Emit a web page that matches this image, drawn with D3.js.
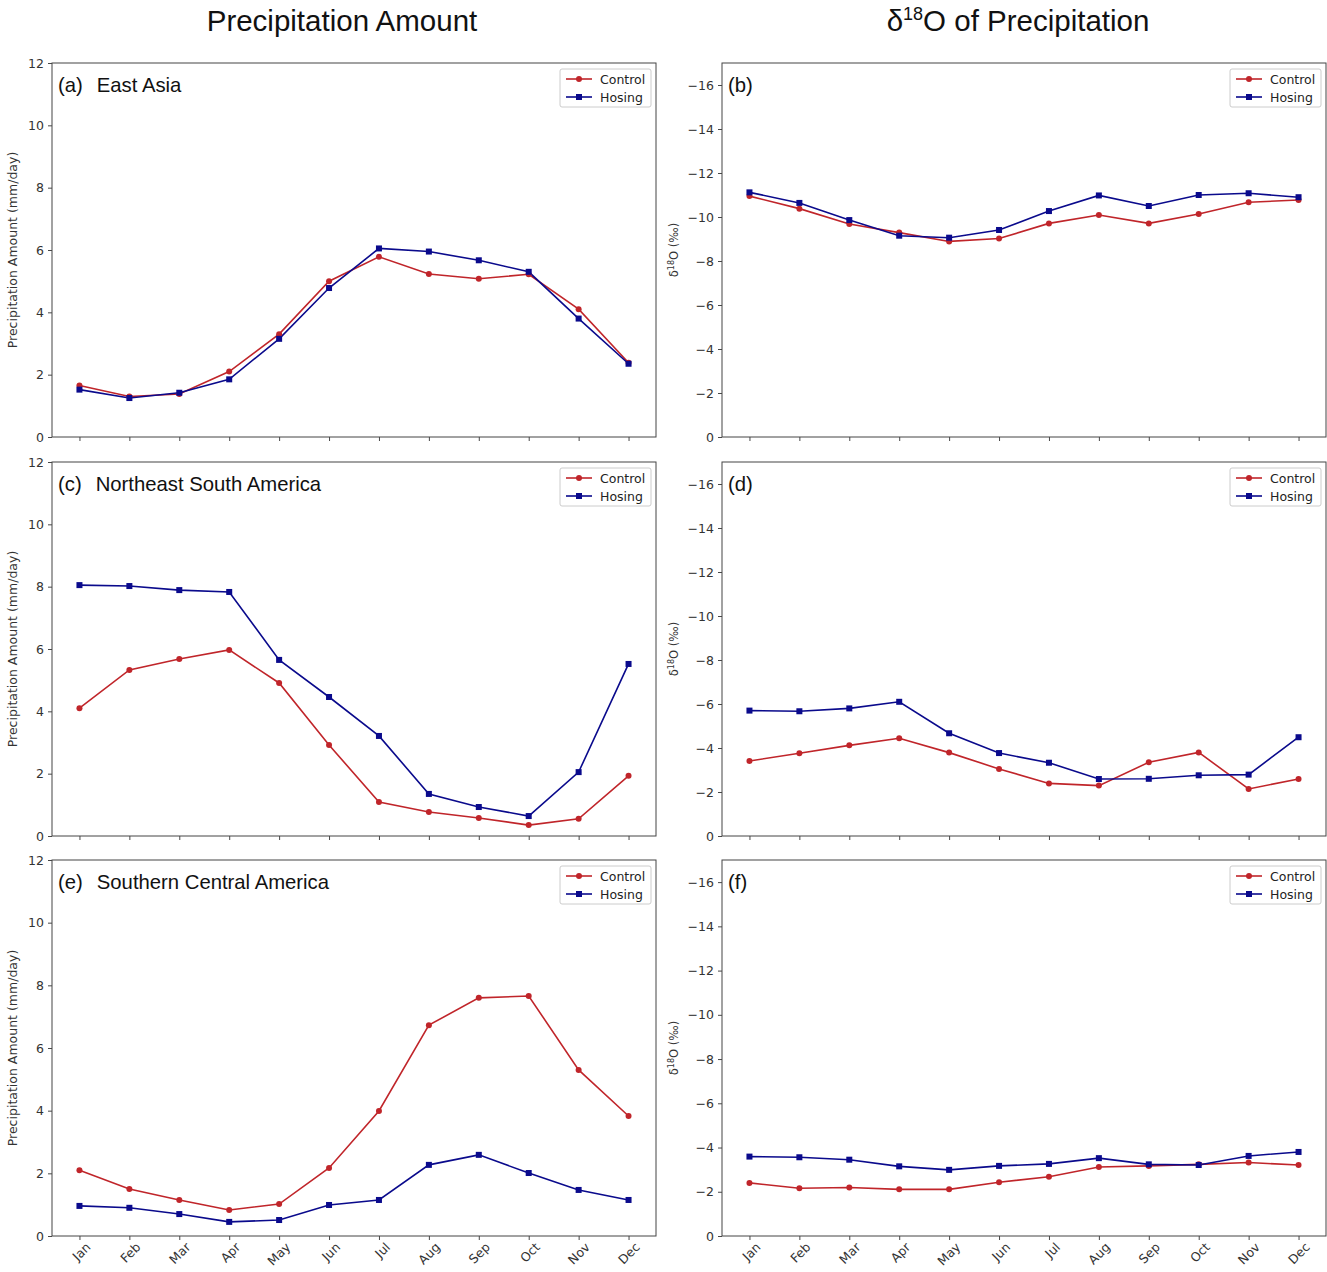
<!DOCTYPE html>
<html><head><meta charset="utf-8">
<script src="https://cdn.jsdelivr.net/npm/d3@7"></script>
<style>body{margin:0;background:#fff;} svg{display:block;}</style>
</head><body>
<svg id="chart" width="1327" height="1272"></svg>
<script>
const months = ["Jan","Feb","Mar","Apr","May","Jun","Jul","Aug","Sep","Oct","Nov","Dec"];
const precipTicks = [0,2,4,6,8,10,12];
const d18Ticks = [0,-2,-4,-6,-8,-10,-12,-14,-16];
const regions = ["East Asia","Northeast South America","Southern Central America"];

const eaPrecipControl = [1.65,1.30,1.38,2.10,3.30,5.00,5.78,5.23,5.08,5.22,4.10,2.38];
const eaPrecipHosing  = [1.52,1.25,1.42,1.85,3.15,4.78,6.05,5.95,5.67,5.30,3.80,2.35];
const eaD18Control = [-10.95,-10.38,-9.68,-9.29,-8.89,-9.02,-9.71,-10.09,-9.71,-10.14,-10.67,-10.77];
const eaD18Hosing  = [-11.12,-10.64,-9.86,-9.15,-9.06,-9.41,-10.27,-10.98,-10.50,-11.00,-11.08,-10.90];

const nsaPrecipControl = [4.10,5.33,5.68,5.97,4.91,2.92,1.09,0.77,0.58,0.35,0.55,1.93];
const nsaPrecipHosing  = [8.05,8.02,7.89,7.83,5.65,4.46,3.21,1.35,0.93,0.64,2.05,5.52];
const nsaD18Control = [-3.41,-3.76,-4.12,-4.44,-3.79,-3.05,-2.39,-2.29,-3.35,-3.80,-2.14,-2.59];
const nsaD18Hosing  = [-5.70,-5.67,-5.80,-6.10,-4.67,-3.77,-3.33,-2.59,-2.60,-2.76,-2.79,-4.49];

const scaPrecipControl = [2.10,1.50,1.15,0.83,1.02,2.17,3.99,6.73,7.60,7.66,5.30,3.83];
const scaPrecipHosing  = [0.96,0.90,0.70,0.45,0.51,0.99,1.15,2.27,2.59,2.01,1.47,1.15];
const scaD18Control = [-2.40,-2.16,-2.19,-2.11,-2.11,-2.43,-2.68,-3.12,-3.17,-3.24,-3.32,-3.21];
const scaD18Hosing  = [-3.59,-3.56,-3.45,-3.15,-2.99,-3.17,-3.26,-3.52,-3.24,-3.21,-3.62,-3.80];

const RED = "#c0252a", BLUE = "#0a0a8c";
const TICKFONT = "'DejaVu Sans', sans-serif";
const TITLEFONT = "'Liberation Sans', Arial, sans-serif";
const svg = d3.select("#chart");

svg.append("text").attr("x",342).attr("y",31).attr("text-anchor","middle")
  .style("font-family",TITLEFONT).style("font-size","29.5px").attr("fill","#111")
  .text("Precipitation Amount");
const t2 = svg.append("text").attr("x",1018).attr("y",31).attr("text-anchor","middle")
  .style("font-family",TITLEFONT).style("font-size","29.5px").attr("fill","#111");
t2.append("tspan").text("δ");
t2.append("tspan").attr("dy",-11).style("font-size","18px").text("18");
t2.append("tspan").attr("dy",11).text("O of Precipitation");

const rows = [
  {top:63, bottom:437, pc:eaPrecipControl, ph:eaPrecipHosing, dc:eaD18Control, dh:eaD18Hosing, la:"(a)", lb:"(b)"},
  {top:462, bottom:836, pc:nsaPrecipControl, ph:nsaPrecipHosing, dc:nsaD18Control, dh:nsaD18Hosing, la:"(c)", lb:"(d)"},
  {top:860, bottom:1236, pc:scaPrecipControl, ph:scaPrecipHosing, dc:scaD18Control, dh:scaD18Hosing, la:"(e)", lb:"(f)"}
];

function panel(x0, x1, top, bottom, yDomain, ticks, control, hosing, label, region, yLabel, showX, isD18) {
  const g = svg.append("g");
  const x = d3.scalePoint().domain(months).range([x0, x1]).padding(0.55);
  const y = d3.scaleLinear().domain(yDomain).range([bottom, top]);
  const yAxis = d3.axisLeft(y).tickValues(ticks).tickSize(4).tickPadding(4)
    .tickFormat(d => d < 0 ? "\u2212" + Math.abs(d) : String(d));
  const ga = g.append("g").attr("transform",`translate(${x0},0)`).call(yAxis);
  const xAxis = d3.axisBottom(x).tickSize(4).tickPadding(6);
  const gx = g.append("g").attr("transform",`translate(0,${bottom})`).call(xAxis);
  [ga,gx].forEach(a=>{
    a.select(".domain").remove();
    a.selectAll("line").attr("stroke","#333").attr("stroke-width",0.9);
    a.selectAll("text").style("font-family",TICKFONT).style("font-size","12.5px").attr("fill","#333");
  });
  if (showX) {
    gx.selectAll("text").attr("text-anchor","end").attr("dy","0.3em").attr("dx","0.2em")
      .attr("transform","translate(0,4) rotate(-45)");
  } else gx.selectAll("text").remove();
  g.append("rect").attr("x",x0).attr("y",top).attr("width",x1-x0).attr("height",bottom-top)
    .attr("fill","none").attr("stroke","#444").attr("stroke-width",1);
  const cy = (top+bottom)/2;
  if (!isD18) {
    g.append("text").attr("transform",`translate(${x0-35},${cy}) rotate(-90)`).attr("text-anchor","middle")
      .style("font-family",TICKFONT).style("font-size","12.5px").attr("fill","#333")
      .text(yLabel);
  } else {
    const yl = g.append("text").attr("transform",`translate(${x0-44},${cy}) rotate(-90)`).attr("text-anchor","middle")
      .style("font-family",TICKFONT).style("font-size","11.5px").attr("fill","#333");
    yl.append("tspan").text("δ");
    yl.append("tspan").attr("dy",-4).style("font-size","8px").text("18");
    yl.append("tspan").attr("dy",4).text("O (‰)");
  }
  const pl = g.append("text").attr("x",x0+6).attr("y",top+29)
    .style("font-family",TITLEFONT).style("font-size","20.3px").attr("fill","#111");
  pl.append("tspan").text(label);
  if (region) pl.append("tspan").attr("dx",14).text(region);
  const line = d3.line().x((d,i)=>x(months[i])).y(d=>y(d));
  g.append("path").datum(control).attr("d",line).attr("fill","none").attr("stroke",RED).attr("stroke-width",1.6);
  g.append("path").datum(hosing).attr("d",line).attr("fill","none").attr("stroke",BLUE).attr("stroke-width",1.6);
  g.selectAll(null).data(control).enter().append("circle")
    .attr("cx",(d,i)=>x(months[i])).attr("cy",d=>y(d)).attr("r",3).attr("fill",RED);
  g.selectAll(null).data(hosing).enter().append("rect")
    .attr("x",(d,i)=>x(months[i])-3).attr("y",d=>y(d)-3).attr("width",6).attr("height",6).attr("fill",BLUE);
  const lx = x1-96, ly = top+6;
  g.append("rect").attr("x",lx).attr("y",ly).attr("width",91).attr("height",38).attr("rx",2)
    .attr("fill","#fff").attr("stroke","#ccc").attr("stroke-width",1);
  [["Control",RED,"c"],["Hosing",BLUE,"s"]].forEach((s,k)=>{
    const yy = ly+10+k*18;
    g.append("line").attr("x1",lx+6).attr("x2",lx+32).attr("y1",yy).attr("y2",yy).attr("stroke",s[1]).attr("stroke-width",1.6);
    if (s[2]==="c") g.append("circle").attr("cx",lx+19).attr("cy",yy).attr("r",3).attr("fill",s[1]);
    else g.append("rect").attr("x",lx+16).attr("y",yy-3).attr("width",6).attr("height",6).attr("fill",s[1]);
    g.append("text").attr("x",lx+40).attr("y",yy+4.5).style("font-family",TICKFONT).style("font-size","12.5px")
      .attr("fill","#222").text(s[0]);
  });
}

rows.forEach((r,i)=>{
  panel(52,656,r.top,r.bottom,[0,12],precipTicks,r.pc,r.ph,r.la,regions[i],"Precipitation Amount (mm/day)",i===2,false);
  panel(722,1326,r.top,r.bottom,[0,-17],d18Ticks,r.dc,r.dh,r.lb,null,"",i===2,true);
});
</script>
</body></html>
